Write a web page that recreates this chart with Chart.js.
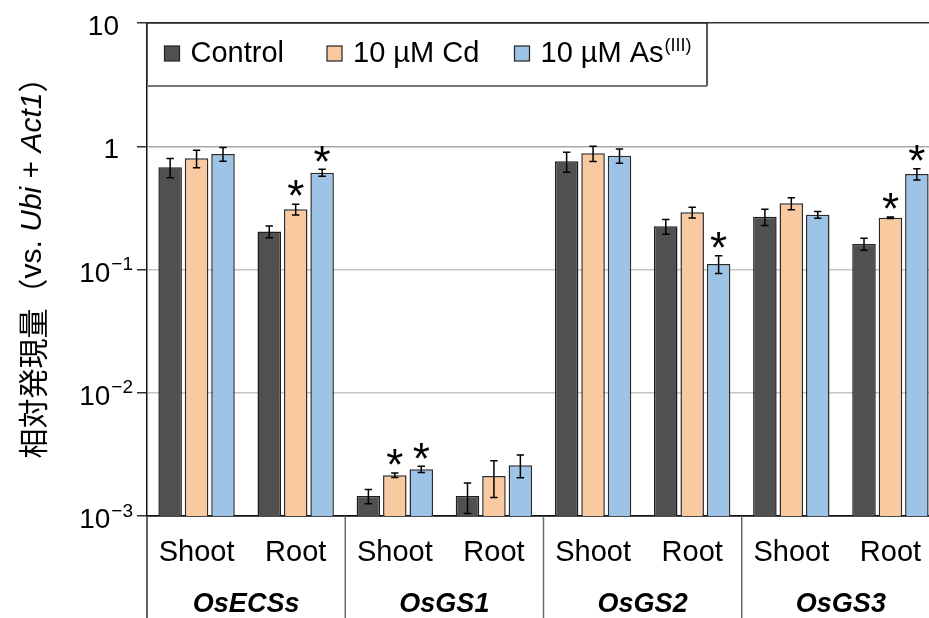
<!DOCTYPE html>
<html>
<head>
<meta charset="utf-8">
<script src="https://cdn.jsdelivr.net/npm/chart.js@4.4.1/dist/chart.umd.min.js"></script>
<style>
  html, body { margin: 0; padding: 0; background: #fff; overflow: hidden; width: 929px; height: 618px; }
  #wrap { position: absolute; left: 0; top: 0; width: 960px; height: 618px; }
</style>
</head>
<body>
<div id="wrap"><canvas id="chart" width="960" height="618"></canvas></div>
<script>
// Tissue under each bar cluster, and the gene each pair of clusters belongs to
const tissues = ['Shoot', 'Root', 'Shoot', 'Root', 'Shoot', 'Root', 'Shoot', 'Root'];
const genes = ['OsECSs', 'OsGS1', 'OsGS2', 'OsGS3'];

// Relative expression (mean) and standard deviation per treatment
const controlMean = [0.674, 0.203, 0.00145, 0.00145, 0.755, 0.224, 0.268, 0.161];
const controlSd   = [0.12, 0.022, 0.00019, 0.0004, 0.14, 0.031, 0.04, 0.018];
const cdMean      = [0.798, 0.308, 0.00214, 0.00211, 0.877, 0.291, 0.344, 0.263];
const cdSd        = [0.13, 0.031, 0.00009, 0.0007, 0.125, 0.029, 0.038, 0.004];
const asMean      = [0.866, 0.610, 0.00239, 0.00258, 0.838, 0.111, 0.278, 0.595];
const asSd        = [0.11, 0.04, 0.00014, 0.00054, 0.11, 0.018, 0.018, 0.063];

// Significant difference from control (marked with *)
const controlSig = [0, 0, 0, 0, 0, 0, 0, 0];
const cdSig      = [0, 1, 1, 0, 0, 0, 0, 1];
const asSig      = [0, 1, 1, 0, 0, 1, 0, 1];

// Log-axis ticks: base and exponent text
const yTickValues = [0.001, 0.01, 0.1, 1, 10];
const yTickBase   = ['10', '10', '10', '1', '10'];
const yTickExp    = ['−3', '−2', '−1', '', ''];

const SANS = "'Liberation Sans', Arial, Helvetica, sans-serif";
const CJK = "'Noto Sans CJK JP', 'Noto Sans CJK SC', sans-serif";

const errorSets = [controlSd, cdSd, asSd];
const sigSets = [controlSig, cdSig, asSig];

const decor = {
  id: 'decor',
  afterDatasetsDraw(chart) {
    const ctx = chart.ctx;
    const y = chart.scales.y;
    ctx.save();
    chart.data.datasets.forEach((ds, i) => {
      const meta = chart.getDatasetMeta(i);
      meta.data.forEach((bar, j) => {
        const m = ds.data[j];
        const sd = errorSets[i][j];
        const yHi = y.getPixelForValue(m + sd);
        const yLo = y.getPixelForValue(Math.max(m - sd, 1e-6));
        ctx.strokeStyle = '#000';
        ctx.lineWidth = 1.5;
        ctx.beginPath();
        ctx.moveTo(bar.x, yHi); ctx.lineTo(bar.x, Math.min(yLo, chart.chartArea.bottom));
        ctx.moveTo(bar.x - 3.7, yHi); ctx.lineTo(bar.x + 3.7, yHi);
        if (yLo <= chart.chartArea.bottom) {
          ctx.moveTo(bar.x - 3.7, yLo); ctx.lineTo(bar.x + 3.7, yLo);
        }
        ctx.stroke();
        if (sigSets[i][j]) {
          ctx.fillStyle = '#000';
          ctx.font = '44px ' + SANS;
          ctx.textAlign = 'center';
          ctx.textBaseline = 'alphabetic';
          ctx.fillText('*', bar.x, yHi - 18 + 0.575 * 44);
        }
      });
    });
    ctx.restore();
  },
  afterDraw(chart) {
    const ctx = chart.ctx;
    const area = chart.chartArea;
    const x = chart.scales.x;
    const y = chart.scales.y;
    const H = chart.height;
    ctx.save();

    // y tick labels with superscript exponents
    yTickValues.forEach((v, i) => {
      const py = y.getPixelForValue(v) + 2;
      const base = yTickBase[i], exp = yTickExp[i];
      ctx.fillStyle = '#000';
      ctx.textBaseline = 'alphabetic';
      ctx.font = '28px ' + SANS;
      const bw = ctx.measureText(base).width;
      ctx.font = '19px ' + SANS;
      const ew = exp ? ctx.measureText(exp).width + 1 : 0;
      const right = exp ? area.left - 14 : area.left - 28;
      const x0 = right - bw - ew;
      ctx.font = '28px ' + SANS;
      ctx.textAlign = 'left';
      ctx.fillText(base, x0, py + 10);
      if (exp) {
        ctx.font = '19px ' + SANS;
        ctx.fillText(exp, x0 + bw + 1, py - 1.5);
      }
    });

    // y-axis title, rotated, with italic gene names
    const parts = [
      { t: '相対発現量（', f: '30px ' + CJK },
      { t: 'vs. ', f: '30px ' + SANS },
      { t: 'Ubi', f: 'italic 30px ' + SANS },
      { t: ' + ', f: '30px ' + SANS },
      { t: 'Act1', f: 'italic 30px ' + SANS },
      { t: '）', f: '30px ' + CJK }
    ];
    let total = 0;
    parts.forEach(p => { ctx.font = p.f; p.w = ctx.measureText(p.t).width; total += p.w; });
    ctx.translate(33, (area.top + area.bottom) / 2 - 9);
    ctx.rotate(-Math.PI / 2);
    ctx.textBaseline = 'middle';
    ctx.textAlign = 'left';
    ctx.fillStyle = '#000';
    let cx = -total / 2;
    parts.forEach(p => { ctx.font = p.f; ctx.fillText(p.t, cx, 0); cx += p.w; });
    ctx.setTransform(1, 0, 0, 1, 0, 0);

    // left axis line continued through the label band, and gene dividers
    ctx.strokeStyle = '#333';
    ctx.lineWidth = 1.5;
    ctx.beginPath();
    ctx.moveTo(area.left, area.bottom); ctx.lineTo(area.left, H);
    ctx.stroke();
    ctx.strokeStyle = '#6a6a6a';
    for (let g = 1; g < genes.length; g++) {
      const bx = (x.getPixelForValue(2 * g - 1) + x.getPixelForValue(2 * g)) / 2;
      ctx.beginPath();
      ctx.moveTo(bx, area.bottom); ctx.lineTo(bx, H);
      ctx.stroke();
    }

    // gene names
    ctx.font = 'italic bold 27px ' + SANS;
    ctx.textAlign = 'center';
    ctx.textBaseline = 'middle';
    ctx.fillStyle = '#000';
    genes.forEach((g, i) => {
      const gx = (x.getPixelForValue(2 * i) + x.getPixelForValue(2 * i + 1)) / 2;
      ctx.fillText(g, gx, 605);
    });

    // legend box
    const lx0 = area.left, lx1 = 707, ly0 = area.top, ly1 = 86;
    ctx.fillStyle = '#fff';
    ctx.fillRect(lx0, ly0, lx1 - lx0, ly1 - ly0);
    ctx.strokeStyle = '#222';
    ctx.lineWidth = 1.5;
    ctx.beginPath();
    ctx.moveTo(lx0, ly1); ctx.lineTo(lx0, ly0); ctx.lineTo(lx1, ly0); ctx.lineTo(lx1, ly1);
    ctx.stroke();
    ctx.strokeStyle = '#777';
    ctx.lineWidth = 2;
    ctx.beginPath();
    ctx.moveTo(lx0, ly1); ctx.lineTo(lx1, ly1);
    ctx.stroke();

    const itemX = [164.5, 327, 514.5];
    const ly = 53.5;
    chart.data.datasets.forEach((ds, i) => {
      const sx = itemX[i];
      ctx.fillStyle = ds.backgroundColor;
      ctx.fillRect(sx, ly - 7.5, 15, 15);
      ctx.strokeStyle = '#222';
      ctx.lineWidth = 1.2;
      ctx.strokeRect(sx, ly - 7.5, 15, 15);
      ctx.fillStyle = '#000';
      ctx.textAlign = 'left';
      ctx.textBaseline = 'middle';
      ctx.font = '29px ' + SANS;
      const label = ds.label;
      const m = label.match(/^(.*?)\((I+)\)$/);
      if (m) {
        ctx.fillText(m[1], sx + 26, ly);
        const w = ctx.measureText(m[1]).width;
        ctx.font = '18px ' + SANS;
        ctx.fillText('(' + m[2] + ')', sx + 27 + w, ly - 7);
      } else {
        ctx.fillText(label, sx + 26, ly);
      }
    });

    ctx.restore();
  }
};

new Chart(document.getElementById('chart'), {
  type: 'bar',
  data: {
    labels: tissues,
    datasets: [
      { label: 'Control', data: controlMean, backgroundColor: '#505050', borderColor: '#1e1e1e', borderWidth: 1.5 },
      { label: '10 µM Cd', data: cdMean, backgroundColor: '#f9c99f', borderColor: '#2a2a2a', borderWidth: 1.5 },
      { label: '10 µM As(III)', data: asMean, backgroundColor: '#9dc3e6', borderColor: '#2a2a2a', borderWidth: 1.5 }
    ]
  },
  options: {
    responsive: false,
    animation: false,
    devicePixelRatio: 1,
    layout: { padding: { left: 0, right: 20, top: 23, bottom: 0 } },
    datasets: { bar: { categoryPercentage: 0.8, barPercentage: 0.89 } },
    plugins: { legend: { display: false }, tooltip: { enabled: false } },
    scales: {
      x: {
        grid: { display: false, drawTicks: false },
        border: { color: '#111', width: 1.5 },
        ticks: { color: '#000', font: { family: SANS, size: 29 }, padding: 20, maxRotation: 0, autoSkip: false },
        afterFit(s) { s.height = 102; }
      },
      y: {
        type: 'logarithmic',
        min: 0.001,
        max: 10,
        afterBuildTicks(s) { s.ticks = yTickValues.map(v => ({ value: v })); },
        grid: {
          color: c => {
            const v = c.tick ? c.tick.value : 0;
            if (v >= 10) return '#333';
            if (v === 1) return '#a8a8a8';
            if (v <= 0.001) return '#111';
            return '#c4c4c4';
          },
          lineWidth: 1.5,
          tickLength: 10,
          tickColor: '#333'
        },
        border: { color: '#111', width: 1.5 },
        ticks: { display: false },
        afterFit(s) { s.width = 147; }
      }
    }
  },
  plugins: [decor]
});
</script>
</body>
</html>
